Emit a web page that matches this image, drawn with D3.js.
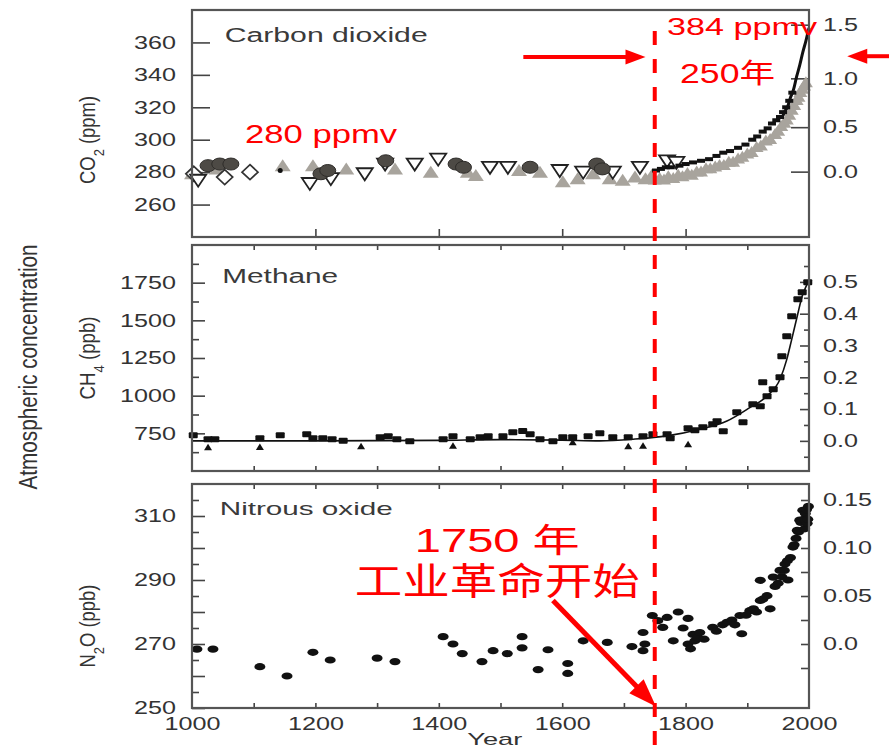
<!DOCTYPE html>
<html><head><meta charset="utf-8">
<script src="https://cdn.jsdelivr.net/npm/d3@7"></script>
<style>body{margin:0;background:#fff}svg{display:block}</style>
</head><body>
<svg id="c" width="889" height="751"></svg>
<script>
// ---------------- DATA ----------------
// Carbon dioxide (ppm), pre-industrial ice-core symbols
const co2TriUp = [[1000,279],[1040,282],[1147,284],[1196,284],[1250,282],[1329,282],[1387,280],[1447,280],[1460,278],[1530,281],[1564,280],[1601,274],[1625,276],[1650,279],[1677,276],[1698,275],[1718,277],[1735,276],[1745,278]];
const co2TriDown = [[1010,275],[1191,273],[1225,276],[1280,279],[1313,285],[1361,285],[1399,288],[1483,283],[1512,283],[1596,281],[1634,280],[1682,280],[1726,283],[1770,287],[1785,286]];
const co2Circles = [[1026,284],[1045,285],[1063,285],[1209,279],[1220,281],[1314,287],[1428,285],[1440,283],[1548,283],[1656,285],[1665,282]];
const co2Diamonds = [[1003,279],[1053,277],[1094,280]];
const co2Dots = [[1143,281]];
// Carbon dioxide, industrial era
const co2GrayBand = [[1750,277],[1758,278],[1765,277],[1772,279],[1780,278],[1788,280],[1795,279],[1803,281],[1810,280],[1818,282],[1825,282],[1833,284],[1840,284],[1848,285],[1855,286],[1862,286],[1870,288],[1877,288],[1885,290],[1892,291],[1900,293],[1907,294],[1915,297],[1922,298],[1930,301],[1937,302],[1945,305],[1950,307],[1955,310],[1960,312],[1964,314],[1968,317],[1972,320],[1976,323],[1980,326],[1983,328],[1986,331],[1989,333],[1992,335],[1995,337]];
const co2BlackMarks = [[1752,281],[1760,282],[1768,283],[1776,283],[1790,284],[1800,285],[1812,286],[1825,287],[1838,288],[1850,290],[1861,292],[1872,293],[1885,295],[1897,297],[1908,300],[1916,302],[1925,305],[1933,307],[1940,310],[1947,312],[1953,314],[1958,317],[1963,320],[1968,324],[1973,329]];
const co2MaunaLoa = [[1958,315],[1960,317],[1965,320],[1970,326],[1975,331],[1980,339],[1985,346],[1990,354],[1995,361],[2000,369]];

// Methane (ppb)
const ch4Squares = [[1002,737],[1026,711],[1037,711],[1110,717],[1143,737],[1186,744],[1196,718],[1212,718],[1227,711],[1245,701],[1305,724],[1318,731],[1332,711],[1353,698],[1407,711],[1423,731],[1451,711],[1467,724],[1480,731],[1504,731],[1520,757],[1536,765],[1548,744],[1564,711],[1585,698],[1601,724],[1617,724],[1642,731],[1661,750],[1682,724],[1707,724],[1731,731],[1747,744],[1770,744],[1775,718],[1804,784],[1815,770],[1828,790],[1844,810],[1851,830],[1861,764],[1883,890],[1893,824],[1909,943],[1921,930],[1925,1089],[1932,996],[1942,1042],[1953,1122],[1956,1261],[1964,1394],[1972,1527],[1982,1640],[1989,1686],[1998,1752]];
const ch4Triangles = [[1026,658],[1110,660],[1274,665],[1423,668],[1617,690],[1707,665],[1731,668],[1804,678]];
const ch4Line = [[1000,700],[1200,700],[1400,703],[1500,708],[1600,705],[1661,700],[1715,711],[1770,733],[1823,777],[1867,832],[1904,921],[1932,998],[1953,1109],[1964,1241],[1972,1374],[1981,1529],[1989,1661],[1998,1750],[2000,1770]];

// Nitrous oxide (ppb)
const n2oPoints = [[1008,268.4],[1034,268.4],[1110,262.9],[1154,260],[1196,267.4],[1224,265],[1300,265.6],[1329,264.5],[1407,272.3],[1423,270],[1438,267],[1470,264.5],[1488,267.9],[1511,267],[1535,272.3],[1535,268.8],[1561,262],[1577,268.2],[1609,263.9],[1609,260.8],[1634,271],[1673,270.5],[1713,269.2],[1731,267.9],[1734,270],[1731,273.6],[1746,278.9],[1755,277.3],[1763,275.2],[1770,278.3],[1780,271],[1788,280],[1796,275],[1804,278],[1804,270],[1808,268.5],[1812,273],[1815,271],[1820,272],[1823,273.6],[1830,271.5],[1844,275.2],[1850,274],[1860,276],[1867,276.8],[1875,277.5],[1880,276],[1888,278.9],[1891,273.2],[1898,279],[1904,280.4],[1910,281],[1915,280],[1921,283.6],[1925,284],[1932,285.1],[1937,281],[1921,289.9],[1942,290.9],[1945,288],[1950,289],[1953,293],[1956,291],[1961,295],[1960,293],[1965,296],[1966,290],[1970,297],[1974,300.3],[1976,301],[1979,303],[1981,305.5],[1983,305],[1985,308.7],[1987,308],[1990,311.8],[1992,309],[1993,306],[1994,310.8],[1996,312],[1997,307.7],[1998,309],[1999,313]];

// Axis tick values and labels
const yearLabels = [1000,1200,1400,1600,1800,2000];
const yearTicks = [1100,1200,1300,1400,1500,1600,1700,1800,1900];
const co2Ticks = [260,280,300,320,340,360];
const co2ForcingTicks = [0.0,0.5,1.0,1.5];
const ch4Ticks = [750,1000,1250,1500,1750];
const ch4MinorTicks = [625,875,1125,1375,1625,1875];
const ch4ForcingTicks = [0.0,0.1,0.2,0.3,0.4,0.5];
const ch4ForcingMinor = [-0.05,0.05,0.15,0.25,0.35,0.45,0.55];
const n2oTicks = [250,270,290,310];
const n2oMidTicks = [260,280,300];
const n2oMinorTicks = [255,265,275,285,295,305,315];
const n2oForcingTicks = [0.0,0.05,0.10,0.15];
const n2oForcingMinor = [-0.025,0.025,0.075,0.125];

const panelTitles = ["Carbon dioxide","Methane","Nitrous oxide"];

// ---------------- LAYOUT ----------------
const SX = 1.4;
const FONT = '"Liberation Sans", Arial, Helvetica, sans-serif';
const CJK = '"Liberation Sans", "Noto Sans CJK SC", sans-serif';
const RED = "#ff0000";
const INK = "#333";
const svg = d3.select("#c");

const x = d3.scaleLinear().domain([1000,2000]).range([192,809]);
const yCO2 = d3.scaleLinear().domain([240,380]).range([237,10]);
const yCH4 = d3.scaleLinear().domain([500,2000]).range([471,245]);
const yN2O = d3.scaleLinear().domain([250,320]).range([708,484]);
const fCH4 = d3.scaleLinear().domain([0,0.5]).range([yCH4(700), yCH4(1755)]);
const fN2O = d3.scaleLinear().domain([0,0.15]).range([yN2O(270), yN2O(315)]);
const co2FromForcing = f => 280*Math.exp(f/5.35);
const fmtInt = d3.format("d");

function style(g, side, pad){
  g.select(".domain").remove();
  g.selectAll(".tick line").attr("stroke","#444").attr("stroke-width",1.6);
  const t = g.selectAll(".tick text").attr("font-family",FONT).attr("font-size",18).attr("fill",INK)
    .attr("transform",`scale(${SX},1)`);
  if(side==="left") t.attr("x",-pad/SX);
  if(side==="right") t.attr("x",pad/SX);
  return g;
}
function frame(y){
  svg.append("rect").attr("x",x(1000)).attr("y",y.range()[1]).attr("width",x(2000)-x(1000))
    .attr("height",y.range()[0]-y.range()[1]).attr("fill","none").attr("stroke","#555").attr("stroke-width",2.2);
}

// ---------- Panel 1: CO2 ----------
style(svg.append("g").attr("transform",`translate(${x(1000)},0)`)
  .call(d3.axisLeft(yCO2).tickValues(co2Ticks).tickSize(-18).tickSizeOuter(0).tickFormat(fmtInt)), "left", 16);
style(svg.append("g").attr("transform",`translate(0,${yCO2(240)})`)
  .call(d3.axisBottom(x).tickValues([1200,1400,1600,1800]).tickSize(-8).tickFormat("")), "bottom");
const co2R = svg.append("g");
co2R.selectAll("line").data(co2ForcingTicks).join("line")
  .attr("x1",x(2000)).attr("x2",x(2000)-18)
  .attr("y1",d=>yCO2(co2FromForcing(d))).attr("y2",d=>yCO2(co2FromForcing(d)))
  .attr("stroke","#444").attr("stroke-width",1.6);

const triUp = "M-8,5.5L8,5.5L0,-6.5Z", triDown = "M-8,-5.5L8,-5.5L0,6.5Z", diamond = "M0,-7.5L8,0L0,7.5L-8,0Z";
const p1 = svg.append("g");
p1.selectAll(".gb").data(co2GrayBand).join("path").attr("d","M-7,5.5L7,5.5L0,-5.5Z")
  .attr("transform",d=>`translate(${x(d[0])},${yCO2(d[1])+2})`).attr("fill","#a8a49d");
p1.selectAll(".tu").data(co2TriUp).join("path").attr("d",triUp)
  .attr("transform",d=>`translate(${x(d[0])},${yCO2(d[1])})`).attr("fill","#a8a49d");
p1.selectAll(".dm").data(co2Diamonds).join("path").attr("d",diamond)
  .attr("transform",d=>`translate(${x(d[0])},${yCO2(d[1])})`).attr("fill","#fff").attr("stroke","#333").attr("stroke-width",1.7);
p1.selectAll(".td").data(co2TriDown).join("path").attr("d",triDown)
  .attr("transform",d=>`translate(${x(d[0])},${yCO2(d[1])})`).attr("fill","#fff").attr("stroke","#222").attr("stroke-width",1.8);
p1.selectAll(".ci").data(co2Circles).join("ellipse")
  .attr("cx",d=>x(d[0])).attr("cy",d=>yCO2(d[1])).attr("rx",8).attr("ry",6)
  .attr("fill","#4d4a45").attr("stroke","#2e2c29").attr("stroke-width",1);
p1.selectAll(".dt").data(co2Dots).join("circle")
  .attr("cx",d=>x(d[0])).attr("cy",d=>yCO2(d[1])).attr("r",2.5).attr("fill","#111");
p1.selectAll(".bm").data(co2BlackMarks).join("rect")
  .attr("x",d=>x(d[0])-4).attr("y",d=>yCO2(d[1])-2).attr("width",8).attr("height",4).attr("fill","#111");
p1.append("path").datum(co2MaunaLoa)
  .attr("d",d3.line().x(d=>x(d[0])).y(d=>yCO2(d[1])).curve(d3.curveMonotoneX))
  .attr("fill","none").attr("stroke","#111").attr("stroke-width",3);
frame(yCO2);
co2R.selectAll("text").data(co2ForcingTicks).join("text")
  .attr("transform",d=>`translate(${x(2000)+14},${yCO2(co2FromForcing(d))}) scale(${SX},1)`)
  .attr("dy","0.32em").attr("font-family",FONT).attr("font-size",18).attr("fill",INK)
  .text(d=>d3.format(".1f")(d));

// ---------- Panel 2: CH4 ----------
style(svg.append("g").attr("transform",`translate(${x(1000)},0)`)
  .call(d3.axisLeft(yCH4).tickValues(ch4Ticks).tickSize(-13).tickSizeOuter(0).tickFormat(fmtInt)), "left", 16);
style(svg.append("g").attr("transform",`translate(${x(1000)},0)`)
  .call(d3.axisLeft(yCH4).tickValues(ch4MinorTicks).tickSize(-7).tickFormat("")), "left", 16);
style(svg.append("g").attr("transform",`translate(0,${yCH4(500)})`)
  .call(d3.axisBottom(x).tickValues(yearTicks).tickSize(-5).tickFormat("")), "bottom");
style(svg.append("g").attr("transform",`translate(0,${yCH4(2000)})`)
  .call(d3.axisTop(x).tickValues(yearTicks).tickSize(-5).tickFormat("")), "top");
style(svg.append("g").attr("transform",`translate(${x(2000)},0)`)
  .call(d3.axisRight(fCH4).tickValues(ch4ForcingTicks).tickSize(-9).tickFormat(d3.format(".1f"))), "right", 14);
style(svg.append("g").attr("transform",`translate(${x(2000)},0)`)
  .call(d3.axisRight(fCH4).tickValues(ch4ForcingMinor).tickSize(-5).tickFormat("")), "right", 14);
const p2 = svg.append("g");
p2.append("path").datum(ch4Line)
  .attr("d",d3.line().x(d=>x(d[0])).y(d=>yCH4(d[1])).curve(d3.curveMonotoneX))
  .attr("fill","none").attr("stroke","#111").attr("stroke-width",1.6);
p2.selectAll(".sq").data(ch4Squares).join("rect")
  .attr("x",d=>x(d[0])-4.5).attr("y",d=>yCH4(d[1])-3).attr("width",9).attr("height",6).attr("rx",1)
  .attr("fill","#111");
p2.selectAll(".tr").data(ch4Triangles).join("path").attr("d","M-4,3L4,3L0,-3.5Z")
  .attr("transform",d=>`translate(${x(d[0])},${yCH4(d[1])})`).attr("fill","#111");
frame(yCH4);

// ---------- Panel 3: N2O ----------
style(svg.append("g").attr("transform",`translate(${x(1000)},0)`)
  .call(d3.axisLeft(yN2O).tickValues(n2oTicks).tickSize(-13).tickSizeOuter(0).tickFormat(fmtInt)), "left", 16);
style(svg.append("g").attr("transform",`translate(${x(1000)},0)`)
  .call(d3.axisLeft(yN2O).tickValues(n2oMidTicks).tickSize(-13).tickFormat("")), "left", 16);
style(svg.append("g").attr("transform",`translate(${x(1000)},0)`)
  .call(d3.axisLeft(yN2O).tickValues(n2oMinorTicks).tickSize(-7).tickFormat("")), "left", 16);
style(svg.append("g").attr("transform",`translate(0,${yN2O(250)})`)
  .call(d3.axisBottom(x).tickValues(yearTicks).tickSize(-5).tickFormat("")), "bottom");
style(svg.append("g").attr("transform",`translate(0,${yN2O(250)})`)
  .call(d3.axisBottom(x).tickValues(yearLabels).tickSize(0).tickPadding(9).tickFormat(fmtInt)), "bottom");
style(svg.append("g").attr("transform",`translate(0,${yN2O(320)})`)
  .call(d3.axisTop(x).tickValues(yearTicks).tickSize(-5).tickFormat("")), "top");
style(svg.append("g").attr("transform",`translate(${x(2000)},0)`)
  .call(d3.axisRight(fN2O).tickValues(n2oForcingTicks).tickSize(-8)
    .tickFormat(d=>d===0?"0.0":d3.format(".2f")(d))), "right", 14);
style(svg.append("g").attr("transform",`translate(${x(2000)},0)`)
  .call(d3.axisRight(fN2O).tickValues(n2oForcingMinor).tickSize(-8).tickFormat("")), "right", 14);
const p3 = svg.append("g");
p3.selectAll("ellipse").data(n2oPoints).join("ellipse")
  .attr("cx",d=>x(d[0])).attr("cy",d=>yN2O(d[1])).attr("rx",5.5).attr("ry",3.6).attr("fill","#111");
frame(yN2O);

// ---------- Text labels ----------
function txt(s, px, py, size, len, color, fam){
  return svg.append("text").attr("x",px).attr("y",py).attr("font-size",size)
    .attr("font-family",fam||FONT).attr("fill",color).attr("textLength",len)
    .attr("lengthAdjust","spacingAndGlyphs").text(s);
}
txt(panelTitles[0], x(1053), yCO2(360.3), 20, 203, "#3a3a3a");
txt(panelTitles[1], x(1049), yCH4(1748), 20, 116, "#3a3a3a");
txt(panelTitles[2], x(1045), yN2O(310.3), 18.5, 173, "#3a3a3a");
txt("Year", x(1490)-27, 745, 17, 55, INK);

function vlabel(parts, cx, cy, size, len, sy){
  const t = svg.append("text").attr("transform",`translate(${cx},${cy}) rotate(-90) scale(1,${sy})`)
    .attr("text-anchor","middle").attr("dy","0.35em").attr("font-family",FONT).attr("font-size",size)
    .attr("fill",INK).attr("textLength",len).attr("lengthAdjust","spacingAndGlyphs");
  parts.forEach(p=>{
    const ts = t.append("tspan").text(p[0]);
    if(p[1]) ts.attr("baseline-shift","sub").attr("font-size",size*0.7);
  });
}
vlabel([["CO"],["2",1],[" (ppm)"]], 88, 140, 17, 88, 1.25);
vlabel([["CH"],["4",1],[" (ppb)"]], 88, 358, 17, 83, 1.25);
vlabel([["N"],["2",1],["O (ppb)"]], 88, 626, 17, 83, 1.25);
vlabel([["Atmospheric concentration"]], 28, 367, 20, 245, 1.25);

// ---------- Red annotations ----------
svg.append("line").attr("x1",x(1750)).attr("x2",x(1750)).attr("y1",yCO2(367)).attr("y2",751)
  .attr("stroke",RED).attr("stroke-width",4).attr("stroke-dasharray","14,14");
function arrow(x1,y1,x2,y2,w,hl,hw){
  const dx=x2-x1, dy=y2-y1, L=Math.hypot(dx,dy), ux=dx/L, uy=dy/L;
  const bx=x2-ux*hl, by=y2-uy*hl;
  svg.append("line").attr("x1",x1).attr("y1",y1).attr("x2",bx+ux*2).attr("y2",by+uy*2)
    .attr("stroke",RED).attr("stroke-width",w);
  svg.append("path").attr("d",`M${x2},${y2}L${bx-uy*hw/2},${by+ux*hw/2}L${bx+uy*hw/2},${by-ux*hw/2}Z`).attr("fill",RED);
}
arrow(x(1537), yCO2(351), x(1735), yCO2(351), 4, 20, 15);
arrow(x(2135), yCO2(351.5), x(2062), yCO2(351.5), 4, 20, 15);
arrow(x(1585), yN2O(283.6), x(1752), yN2O(250.5), 5, 28, 20);

txt("280  ppmv", x(1086), yCO2(298), 26, 152, RED);
txt("384  ppmv", x(1770), yCO2(364.6), 24, 150, RED);
txt("250年", x(1791), yCO2(335), 27, 95, RED, CJK);
txt("1750  年", x(1361), yN2O(298.75), 33, 165, RED, CJK);
txt("工业革命开始", x(1264), yN2O(285.3), 37, 285, RED, CJK);
</script>
</body></html>
